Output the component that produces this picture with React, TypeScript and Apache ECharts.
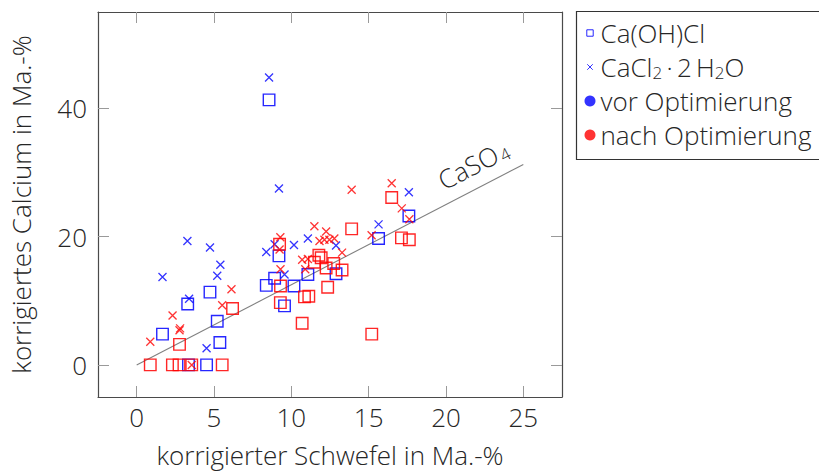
import React, { useEffect, useRef } from "react";
import * as echarts from "echarts";

// vor Optimierung – Ca(OH)Cl (blue squares)
const vorCaOHClS = [8.56, 17.6, 15.64, 9.2, 8.92, 8.38, 10.17, 11.07, 12.89, 9.56, 4.74, 3.3, 5.21, 1.67, 5.38, 4.52, 3.35];
const vorCaOHClCa = [41.3, 23.2, 19.7, 17.0, 13.5, 12.4, 12.3, 14.1, 14.2, 9.2, 11.35, 9.5, 6.8, 4.8, 3.5, 0, 0];
// vor Optimierung – CaCl2·2H2O (blue crosses)
const vorCaCl2S = [8.56, 9.2, 17.6, 15.64, 11.07, 10.17, 8.92, 8.38, 12.89, 9.56, 3.28, 4.74, 5.41, 5.21, 1.67, 3.39, 4.52];
const vorCaCl2Ca = [44.8, 27.5, 26.9, 21.9, 19.7, 18.7, 18.8, 17.6, 18.6, 14.1, 19.3, 18.3, 15.6, 13.9, 13.7, 10.3, 2.6];
// nach Optimierung – Ca(OH)Cl (red squares)
const nachCaOHClS = [16.49, 13.9, 17.12, 17.63, 9.24, 11.78, 11.93, 11.49, 12.25, 12.74, 13.28, 9.3, 12.35, 10.85, 11.13, 9.29, 10.7, 15.2, 6.2, 2.77, 0.88, 2.31, 2.74, 3.56, 5.53];
const nachCaOHClCa = [26.1, 21.2, 19.8, 19.5, 18.8, 17.1, 16.7, 16.0, 15.1, 15.8, 14.8, 12.3, 12.1, 10.6, 10.7, 9.7, 6.5, 4.8, 8.8, 3.2, 0, 0, 0, 0, 0];
// nach Optimierung – CaCl2·2H2O (red crosses)
const nachCaCl2S = [16.49, 13.9, 17.14, 17.63, 15.19, 11.49, 12.25, 11.82, 12.14, 12.46, 12.78, 13.28, 10.7, 11.07, 10.9, 9.3, 9.29, 9.24, 6.13, 5.53, 2.32, 2.81, 2.77, 0.88, 3.56];
const nachCaCl2Ca = [28.3, 27.3, 24.4, 22.7, 20.2, 21.6, 20.8, 19.3, 19.5, 19.5, 19.7, 17.5, 16.4, 16.5, 14.9, 14.9, 19.9, 18.0, 11.8, 9.3, 7.7, 5.7, 5.4, 3.6, 0];
// CaSO4 stoichiometric line (Ca/S mass ratio)
const caso4S = [0, 25];
const caso4Ratio = 1.25;

const xTicks = [0, 5, 10, 15, 20, 25];
const yTicks = [0, 20, 40];

const FONT = "'Open Sans', 'Noto Sans', sans-serif";
const FS = 26;
const BLUE = "#0000ff";
const RED = "#ff0000";
const TXT = "#262626";
const CROSS = "path://M0,0L10,10M0,10L10,0";

const zip = (a: number[], b: number[]) => a.map((v, i) => [v, b[i]]);

export default function App() {
  const ref = useRef<HTMLDivElement>(null);
  useEffect(() => {
    const chart = echarts.init(ref.current!, null, { renderer: "svg" });
    const tick = { show: true, inside: true, length: 11, customValues: xTicks, lineStyle: { color: "#9a9a9a", width: 1 } };
    const ytick = { ...tick, customValues: yTicks };
    const axLine = { show: true, onZero: false, lineStyle: { color: "#4a4a4a", width: 1.2 } };
    const labelStyle = { fontSize: FS, fontFamily: FONT, fontWeight: 300, color: TXT };
    const subRich = {
      n: { fontSize: FS, fontFamily: FONT, fontWeight: 300, color: TXT, lineHeight: 28 },
      s: { fontSize: 17, fontFamily: FONT, fontWeight: 300, color: TXT, verticalAlign: "bottom", lineHeight: 17, padding: [11, 0, 0, 0] },
    };
    const sq = (color: string) => ({ color: "rgba(0,0,0,0)", borderColor: color, borderWidth: 1.4, opacity: 0.85 });
    const cr = (color: string) => ({ color: "rgba(0,0,0,0)", borderColor: color, borderWidth: 1.3 });
    chart.setOption({
      animation: false,
      backgroundColor: "#fff",
      grid: { left: 96, top: 12, right: 257, bottom: 75, containLabel: false },
      xAxis: [
        {
          type: "value", position: "bottom", min: -2.5, max: 27.5,
          axisLine: axLine, axisTick: tick,
          axisLabel: { ...labelStyle, customValues: xTicks, margin: 7 },
          splitLine: { show: false },
          name: "korrigierter Schwefel in Ma.-%", nameLocation: "middle", nameGap: 45,
          nameTextStyle: labelStyle,
        },
        {
          type: "value", position: "top", min: -2.5, max: 27.5,
          axisLine: axLine, axisTick: tick, axisLabel: { show: false }, splitLine: { show: false },
        },
      ],
      yAxis: [
        {
          type: "value", position: "left", min: -5, max: 55,
          axisLine: axLine, axisTick: ytick,
          axisLabel: { ...labelStyle, customValues: yTicks, margin: 11 },
          splitLine: { show: false },
          name: "korrigiertes Calcium in Ma.-%", nameLocation: "middle", nameGap: 64,
          nameTextStyle: labelStyle,
        },
        {
          type: "value", position: "right", min: -5, max: 55,
          axisLine: axLine, axisTick: ytick, axisLabel: { show: false }, splitLine: { show: false },
        },
      ],
      legend: {
        orient: "vertical", left: 576, top: 11,
        padding: [8, 8, 8, 8], itemGap: 6, itemWidth: 11, itemHeight: 11,
        borderWidth: 0, backgroundColor: "transparent", z: 20,
        textStyle: { ...labelStyle, lineHeight: 28, rich: subRich },
        formatter: (name: string) =>
          name === "CaCl2·2H2O" ? "{n|CaCl}{s|2}{n|\u2009·\u20092\u2009H}{s|2}{n|O}" : "{n|" + name + "}",
        data: [
          { name: "Ca(OH)Cl", icon: "path://M0,0M12,12M2.5,2.5L9.5,2.5L9.5,9.5L2.5,9.5Z", itemStyle: { color: "rgba(0,0,0,0)", borderColor: BLUE, borderWidth: 1 } },
          { name: "CaCl2·2H2O", icon: "path://M0,0M12,12M3,3L9,9M3,9L9,3", itemStyle: { color: "rgba(0,0,0,0)", borderColor: BLUE, borderWidth: 1 } },
          { name: "vor Optimierung", icon: "circle", itemStyle: { color: BLUE, borderWidth: 0 } },
          { name: "nach Optimierung", icon: "circle", itemStyle: { color: RED, borderWidth: 0 } },
        ],
      },
      graphic: [
        {
          id: "legendFrame", type: "rect", z: 19, silent: true,
          shape: { x: 576.5, y: 11.5, width: 300, height: 148 },
          style: { fill: "#fff", stroke: "#333", lineWidth: 1.2 },
        },
      ],
      series: [
        {
          name: "CaSO4", type: "line", silent: true, symbol: "none",
          data: caso4S.map((s) => [s, s * caso4Ratio]),
          lineStyle: { color: "#808080", width: 1.1 }, z: 1,
        },
        { name: "Ca(OH)Cl", type: "scatter", symbol: "rect", symbolSize: 11.5, data: zip(vorCaOHClS, vorCaOHClCa), itemStyle: sq(BLUE), z: 2 },
        { name: "CaCl2·2H2O", type: "scatter", symbol: CROSS, symbolSize: 8, data: zip(vorCaCl2S, vorCaCl2Ca), itemStyle: cr(BLUE), z: 2 },
        { name: "Ca(OH)Cl nach", type: "scatter", symbol: "rect", symbolSize: 11.5, data: zip(nachCaOHClS, nachCaOHClCa), itemStyle: sq(RED), z: 3 },
        { name: "CaCl2·2H2O nach", type: "scatter", symbol: CROSS, symbolSize: 8, data: zip(nachCaCl2S, nachCaCl2Ca), itemStyle: cr(RED), z: 3 },
        { name: "vor Optimierung", type: "scatter", symbol: "circle", data: [], itemStyle: { color: BLUE } },
        { name: "nach Optimierung", type: "scatter", symbol: "circle", data: [], itemStyle: { color: RED } },
      ],
    });

    // CaSO4 annotation placed along the line through the axis scales
    const p0 = chart.convertToPixel({ xAxisIndex: 0, yAxisIndex: 0 }, [caso4S[0], caso4S[0] * caso4Ratio]) as number[];
    const p1 = chart.convertToPixel({ xAxisIndex: 0, yAxisIndex: 0 }, [caso4S[1], caso4S[1] * caso4Ratio]) as number[];
    const ang = Math.atan2(p0[1] - p1[1], p1[0] - p0[0]);
    const xc = 22.45;
    const foot = chart.convertToPixel({ xAxisIndex: 0, yAxisIndex: 0 }, [xc, xc * caso4Ratio]) as number[];
    const d = 23;
    const cx = foot[0] - d * Math.sin(ang);
    const cy = foot[1] - d * Math.cos(ang);
    chart.setOption({
      graphic: [
        {
          id: "caso4Label", type: "text", x: cx, y: cy, rotation: ang, z: 10,
          style: {
            text: "{n|CaSO}{s|4}", align: "center", verticalAlign: "middle",
            rich: {
              n: { fontSize: FS, fontFamily: FONT, fontWeight: 300, fill: TXT, lineHeight: 28 },
              s: { fontSize: 17, fontFamily: FONT, fontWeight: 300, fill: TXT, verticalAlign: "bottom", lineHeight: 17, padding: [7, 0, 0, 2] },
            },
          },
        },
      ],
    });
    return () => chart.dispose();
  }, []);
  return (
    <div
      ref={ref}
      style={{ position: "fixed", left: 0, top: 0, width: 819, height: 473, background: "#fff" }}
    />
  );
}
